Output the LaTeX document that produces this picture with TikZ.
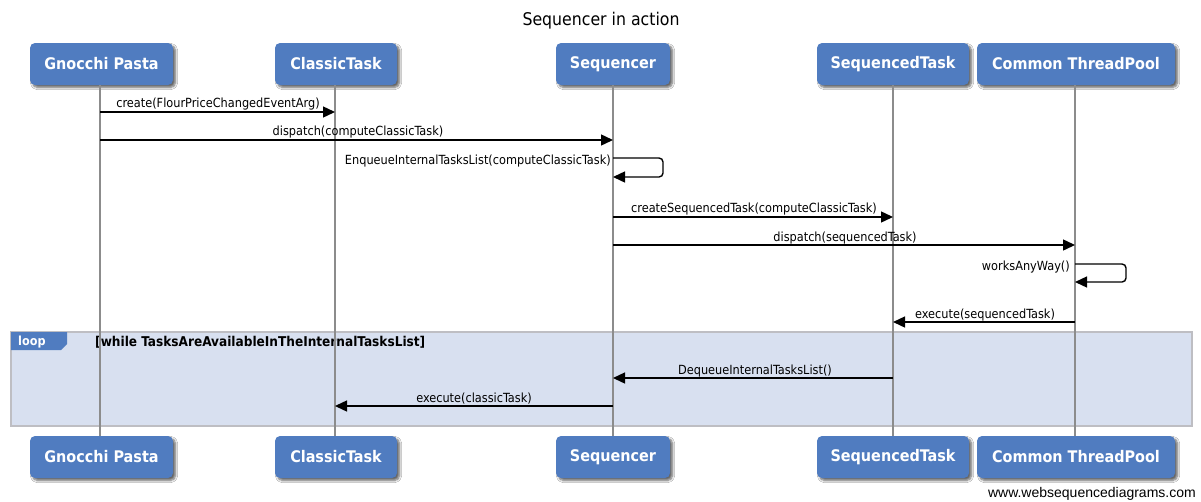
\documentclass[tikz,border=0pt]{standalone}
\usepackage{fontspec}
\setmainfont{DejaVu Sans}
\newfontfamily\condfont{DejaVu Sans Condensed}
\newfontfamily\condbold{DejaVu Sans Condensed Bold}
\usetikzlibrary{arrows.meta,shadows.blur}
\definecolor{actorblue}{RGB}{80,124,192}
\definecolor{framefill}{RGB}{216,224,240}
\definecolor{framedraw}{RGB}{190,190,195}
\definecolor{lifegray}{RGB}{140,140,140}
\tikzset{
  actor/.style={draw=none, fill=actorblue, rounded corners=5pt, minimum height=42pt,
    text=white, font=\condbold\fontsize{16}{18}\selectfont,
    blur shadow={shadow xshift=2.5pt, shadow yshift=-2.5pt, shadow blur steps=6, shadow opacity=60}},
  lifeline/.style={draw=lifegray, line width=1.6pt},
  msg/.style={draw=black, line width=1.4pt, -{Triangle[length=12pt,width=11pt]}},
  lbl/.style={font=\condfont\fontsize{12.6}{14}\selectfont, inner sep=0pt},
}
\begin{document}
\begin{tikzpicture}[x=1pt,y=-1pt]
\useasboundingbox (0,0) rectangle (1201,501);
\fill[white] (0,0) rectangle (1201,501);
\node[font=\condfont\fontsize{17.5}{20}\selectfont] (title) at (601,21) {Sequencer in action};

% loop frame
\draw[fill=framefill, draw=framedraw, line width=1.5pt] (11,332) rectangle (1192,426);
\path[fill=actorblue] (11,332) -- (67,332) -- (67,344) -- (61,350) -- (11,350) -- cycle;
\node[font=\condbold\fontsize{12.5}{14}\selectfont, text=white, anchor=west, inner sep=0pt] (looptag) at (18,342) {loop};
\node[font=\condbold\fontsize{13.5}{15}\selectfont, anchor=west, inner sep=0pt] (loopcond) at (95,342) {[while TasksAreAvailableInTheInternalTasksList]};

% actors top
\node[actor, minimum width=143pt] (tA) at (101.5,64) {Gnocchi Pasta};
\node[actor, minimum width=122pt] (tB) at (336,64) {ClassicTask};
\node[actor, minimum width=114pt] (tC) at (613,64) {Sequencer};
\node[actor, minimum width=152pt] (tD) at (893,64) {SequencedTask};
\node[actor, minimum width=198pt] (tE) at (1076,64) {Common ThreadPool};
% actors bottom
\node[actor, minimum width=143pt] (bA) at (101.5,457) {Gnocchi Pasta};
\node[actor, minimum width=122pt] (bB) at (336,457) {ClassicTask};
\node[actor, minimum width=114pt] (bC) at (613,457) {Sequencer};
\node[actor, minimum width=152pt] (bD) at (893,457) {SequencedTask};
\node[actor, minimum width=198pt] (bE) at (1076,457) {Common ThreadPool};

% lifeline anchor coordinates
\coordinate (lA) at (100,0);
\coordinate (lB) at (335,0);
\coordinate (lC) at (613,0);
\coordinate (lD) at (893,0);
\coordinate (lE) at (1075,0);

\draw[lifeline] (lA |- tA.south) -- (lA |- bA.north);
\draw[lifeline] (lB |- tB.south) -- (lB |- bB.north);
\draw[lifeline] (lC |- tC.south) -- (lC |- bC.north);
\draw[lifeline] (lD |- tD.south) -- (lD |- bD.north);
\draw[lifeline] (lE |- tE.south) -- (lE |- bE.north);

% messages
\coordinate (m1a) at (lA |- 0,112); \coordinate (m1b) at (lB |- 0,112);
\draw[msg] (m1a) -- (m1b);
\node[lbl, anchor=base] (l1) at (218,107) {create(FlourPriceChangedEventArg)};

\coordinate (m2a) at (lA |- 0,140); \coordinate (m2b) at (lC |- 0,140);
\draw[msg] (m2a) -- (m2b);
\node[lbl, anchor=base] (l2) at (358,135) {dispatch(computeClassicTask)};

\coordinate (m3a) at (lC |- 0,158); \coordinate (m3b) at (lC |- 0,177);
\draw[msg, rounded corners=4pt] (m3a) -- (663,158) -- (663,177) -- (m3b);
\node[lbl, anchor=base east] (l3) at (611,164) {EnqueueInternalTasksList(computeClassicTask)};

\coordinate (m4a) at (lC |- 0,217); \coordinate (m4b) at (lD |- 0,217);
\draw[msg] (m4a) -- (m4b);
\node[lbl, anchor=base] (l4) at (754,212) {createSequencedTask(computeClassicTask)};

\coordinate (m5a) at (lC |- 0,245); \coordinate (m5b) at (lE |- 0,245);
\draw[msg] (m5a) -- (m5b);
\node[lbl, anchor=base] (l5) at (845,241) {dispatch(sequencedTask)};

\coordinate (m6a) at (lE |- 0,264); \coordinate (m6b) at (lE |- 0,282);
\draw[msg, rounded corners=4pt] (m6a) -- (1126,264) -- (1126,282) -- (m6b);
\node[lbl, anchor=base east] (l6) at (1070,270) {worksAnyWay()};

\coordinate (m7a) at (lE |- 0,322); \coordinate (m7b) at (lD |- 0,322);
\draw[msg] (m7a) -- (m7b);
\node[lbl, anchor=base] (l7) at (985,318) {execute(sequencedTask)};

\coordinate (m8a) at (lD |- 0,378); \coordinate (m8b) at (lC |- 0,378);
\draw[msg] (m8a) -- (m8b);
\node[lbl, anchor=base] (l8) at (755,374) {DequeueInternalTasksList()};

\coordinate (m9a) at (lC |- 0,406); \coordinate (m9b) at (lB |- 0,406);
\draw[msg] (m9a) -- (m9b);
\node[lbl, anchor=base] (l9) at (474,402) {execute(classicTask)};

\node[font=\fontspec{Liberation Sans}\fontsize{14}{16}\selectfont, anchor=base east, inner sep=0pt] (wsd) at (1196,497) {www.websequencediagrams.com};
\end{tikzpicture}
\end{document}
